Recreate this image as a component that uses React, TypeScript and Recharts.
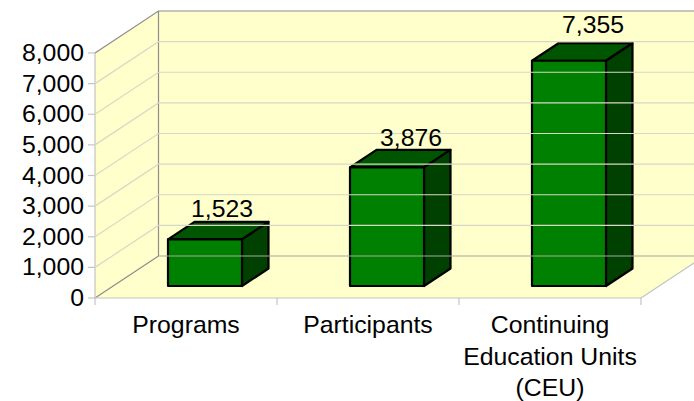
import React from "react";
import { BarChart, Bar, XAxis, YAxis, ReferenceArea, ReferenceLine } from "recharts";

const categories = ["Programs", "Participants", "Continuing|Education Units|(CEU)"];
const values = [1523, 3876, 7355];
const yTicks = [0, 1000, 2000, 3000, 4000, 5000, 6000, 7000, 8000];

const rows = categories.map((name, i) => ({ name, value: values[i] }));

const FONT = "'Liberation Sans', Arial, sans-serif";
const FONT_SIZE = 24.8;
const WALL_DX = 63.5;
const WALL_DY = -42;
const BAR_DX = 19;
const BAR_DY = -12;
const SIDE_DX = 26.5;
const SIDE_DY = -17.5;
const LABEL_LIFT = [22, 21, 28];
const LABEL_SHIFT = [17, 24, 24];

const Walls = (p: any) => {
  const { x, y, width, height } = p;
  const b = y + height;
  const r = x + width;
  const t = y;
  return (
    <g>
      <polygon points={`${x},${b} ${x},${t} ${x + WALL_DX},${t + WALL_DY} ${x + WALL_DX},${b + WALL_DY}`} fill="#ffffcc" />
      <polygon points={`${x + WALL_DX},${t + WALL_DY} ${r + WALL_DX},${t + WALL_DY} ${r + WALL_DX},${b + WALL_DY} ${x + WALL_DX},${b + WALL_DY}`} fill="#ffffcc" />
      <polygon points={`${x},${b} ${x + WALL_DX},${b + WALL_DY} ${r + WALL_DX},${b + WALL_DY} ${r},${b}`} fill="#ffffcc" />
      <path d={`M${x + WALL_DX},${b + WALL_DY} L${x},${b} M${x},${t} L${x + WALL_DX},${t + WALL_DY} L${r + WALL_DX},${t + WALL_DY} M${x + WALL_DX},${t + WALL_DY} L${x + WALL_DX},${b + WALL_DY}`} stroke="#8c8c8c" strokeWidth={1.2} fill="none" />
      <path d={`M${x},${t} L${x},${b + 7} M${x},${b} L${r},${b} M${r},${b} L${r + WALL_DX},${b + WALL_DY} M${r},${b} L${r},${b + 7}`} stroke="#c4c4c4" strokeWidth={1.2} fill="none" />
      <path d={`M${x + width / 3},${b} L${x + width / 3},${b + 7} M${x + (2 * width) / 3},${b} L${x + (2 * width) / 3},${b + 7}`} stroke="#c4c4c4" strokeWidth={1.2} fill="none" />
    </g>
  );
};

const GridLine = (p: any) => {
  const { x1, x2, y1 } = p;
  const y = y1;
  const zero = p.tickValue === 0;
  const top = p.tickValue === 8000;
  return (
    <g>
      <line x1={x1 - 7} x2={x1} y1={y} y2={y} stroke="#c4c4c4" strokeWidth={1.2} />
      {!zero && !top && (
        <path d={`M${x1},${y} L${x1 + WALL_DX},${y + WALL_DY} L${x2 + WALL_DX},${y + WALL_DY}`} stroke="#d8d8c8" strokeWidth={1.2} fill="none" />
      )}
      {zero && (
        <line x1={x1 + WALL_DX} x2={x2 + WALL_DX} y1={y + WALL_DY} y2={y + WALL_DY} stroke="#a8a89c" strokeWidth={1.2} />
      )}
    </g>
  );
};

const Bar3D = (p: any) => {
  const x = p.x + BAR_DX;
  const y = p.y + BAR_DY;
  const w = p.width;
  const h = p.height;
  const edge = { stroke: "#000000", strokeWidth: 2.2, strokeLinejoin: "round" as const };
  return (
    <g>
      <polygon points={`${x},${y} ${x + SIDE_DX},${y + SIDE_DY} ${x + w + SIDE_DX},${y + SIDE_DY} ${x + w},${y}`} fill="#005500" {...edge} />
      <polygon points={`${x + w},${y} ${x + w + SIDE_DX},${y + SIDE_DY} ${x + w + SIDE_DX},${y + h + SIDE_DY} ${x + w},${y + h}`} fill="#004000" {...edge} />
      <rect x={x} y={y} width={w} height={h} fill="#008000" {...edge} />
    </g>
  );
};

const ValueLabel = (p: any) => {
  const { x, y, width, value, index } = p;
  return (
    <text x={x + BAR_DX + width / 2 + LABEL_SHIFT[index]} y={y + BAR_DY - LABEL_LIFT[index]} textAnchor="middle" fontFamily={FONT} fontSize={FONT_SIZE} fill="#000">
      {Number(value).toLocaleString("en-US")}
    </text>
  );
};

const CatTick = (p: any) => {
  const { x, y, payload } = p;
  const lines = String(payload.value).split("|");
  return (
    <text textAnchor="middle" fontFamily={FONT} fontSize={FONT_SIZE} fill="#000">
      {lines.map((l: string, i: number) => (
        <tspan key={i} x={x} y={y + 27 + i * 31.5}>{l}</tspan>
      ))}
    </text>
  );
};

const NumTick = (p: any) => {
  const { x, y, payload } = p;
  return (
    <text x={x - 2} y={y + 8} textAnchor="end" fontFamily={FONT} fontSize={FONT_SIZE} fill="#000">
      {Number(payload.value).toLocaleString("en-US")}
    </text>
  );
};

export default function App() {
  return (
    <div style={{ position: "absolute", left: 0, top: 0, width: 694, height: 401, background: "#fff" }}>
      <BarChart width={694} height={401} data={rows} margin={{ top: 53, right: 53, left: 0, bottom: 0 }} barSize={74}>
        <XAxis dataKey="name" height={103} axisLine={false} tickLine={false} tick={<CatTick />} interval={0} />
        <YAxis width={95} domain={[0, 8000]} ticks={yTicks} axisLine={false} tickLine={false} tickMargin={3} tick={<NumTick />} interval={0} />
        <ReferenceArea y1={0} y2={8000} shape={<Walls />} />
        {yTicks.map((v) => (
          <ReferenceLine key={v} y={v} shape={(props: any) => <GridLine {...props} tickValue={v} />} />
        ))}
        <Bar dataKey="value" isAnimationActive={false} shape={<Bar3D />} label={<ValueLabel />} />
      </BarChart>
    </div>
  );
}
